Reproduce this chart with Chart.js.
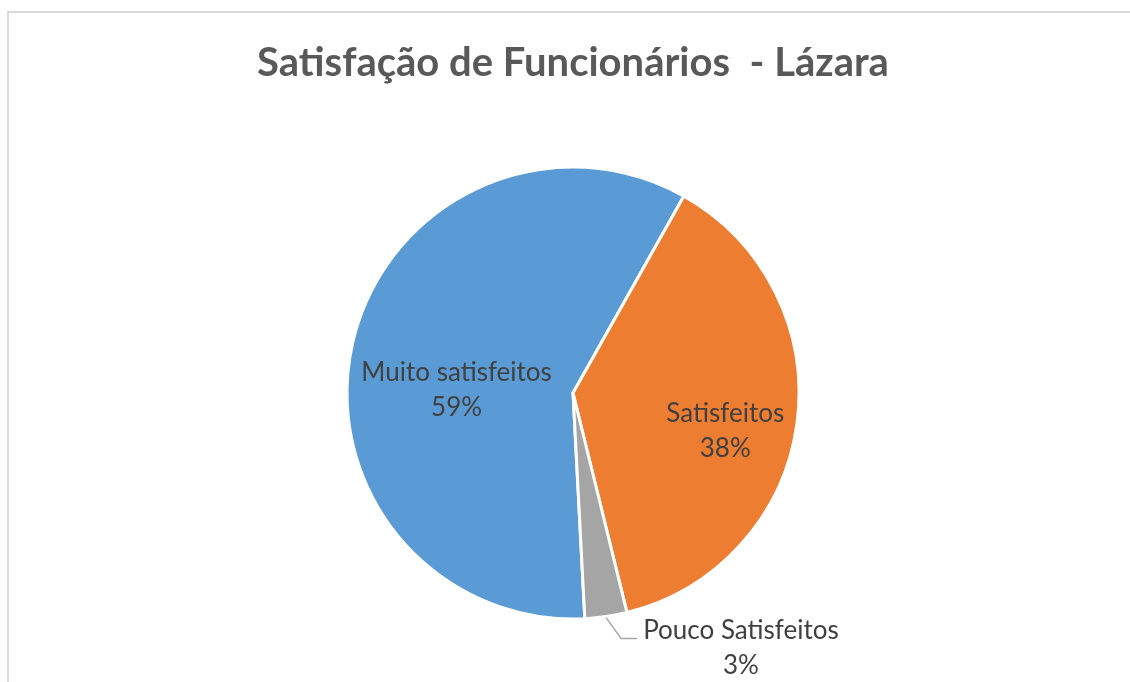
<!DOCTYPE html>
<html>
<head>
<meta charset="utf-8">
<title>Satisfação de Funcionários - Lázara</title>
<script src="https://cdn.jsdelivr.net/npm/chart.js@4"></script>
<style>
  body { margin: 0; background: #fff; overflow: hidden; }
  .frame {
    position: absolute; left: 7px; top: 11px; width: 1300px; height: 900px;
    border-left: 2px solid #d9d9d9; border-top: 2px solid #d9d9d9;
  }
  #wrap { position: absolute; left: 0; top: 0; width: 1130px; height: 682px; }
</style>
</head>
<body>
<div class="frame"></div>
<div id="wrap"><canvas id="pie"></canvas></div>
<script>
const titleText = 'Satisfação de Funcionários  - Lázara';
const categories = ['Muito satisfeitos', 'Satisfeitos', 'Pouco Satisfeitos'];
const percentages = [59, 38, 3];
const sliceColors = ['#5b9bd5', '#ed7d31', '#a5a5a5'];

// where each data label goes: inside the slice (dist = fraction of radius,
// plus a nudge) or outside with a leader line
const labelSpots = [
  { inside: true, dist: 0.52, dx: -2, dy: 23 },
  { inside: true, dist: 0.68, dx: 0, dy: 17 },
  { inside: false }
];

const labelFont = '26px Lato';
const labelColor = '#404040';
const lineGap = 35;
const capHalf = 9;

const dataLabels = {
  id: 'dataLabels',
  afterDatasetsDraw(chart) {
    const ctx = chart.ctx;
    const arcs = chart.getDatasetMeta(0).data;
    ctx.save();
    ctx.font = labelFont;
    ctx.fillStyle = labelColor;
    ctx.textBaseline = 'alphabetic';
    arcs.forEach((arc, i) => {
      const p = arc.getProps(['x', 'y', 'startAngle', 'endAngle', 'outerRadius'], true);
      const mid = (p.startAngle + p.endAngle) / 2;
      const lines = [categories[i], percentages[i] + '%'];
      const spot = labelSpots[i];
      let cx, cy;
      if (spot.inside) {
        cx = p.x + Math.cos(mid) * p.outerRadius * spot.dist + spot.dx;
        cy = p.y + Math.sin(mid) * p.outerRadius * spot.dist + spot.dy;
      } else {
        // leader line from the rim, down and out, then flat
        const sx = p.x + Math.cos(mid) * (p.outerRadius + 1);
        const sy = p.y + Math.sin(mid) * (p.outerRadius + 1);
        const ex = sx + 15, ey = sy + 21;
        ctx.strokeStyle = '#a6a6a6';
        ctx.lineWidth = 1.5;
        ctx.beginPath();
        ctx.moveTo(sx, sy);
        ctx.lineTo(ex, ey);
        ctx.lineTo(ex + 16, ey);
        ctx.stroke();
        const w = Math.max(...lines.map(t => ctx.measureText(t).width));
        cx = ex + 22 + w / 2;
        cy = ey + 9;
      }
      ctx.textAlign = 'center';
      ctx.fillText(lines[0], cx, cy - lineGap / 2 + capHalf);
      ctx.fillText(lines[1], cx, cy + lineGap / 2 + capHalf);
    });
    ctx.restore();
  }
};

new Chart(document.getElementById('pie'), {
  type: 'pie',
  data: {
    labels: categories,
    datasets: [{
      data: percentages,
      backgroundColor: sliceColors,
      borderColor: '#ffffff',
      borderWidth: 3
    }]
  },
  options: {
    responsive: true,
    maintainAspectRatio: false,
    animation: false,
    events: [],
    rotation: 177,
    radius: 226,
    layout: { padding: { left: 16, right: 0, top: 0, bottom: 0 } },
    plugins: {
      legend: { display: false },
      tooltip: { enabled: false },
      title: {
        display: true,
        text: titleText,
        color: '#595959',
        font: { family: 'Lato', size: 40, weight: 'bold' },
        padding: { top: 39, bottom: 17 }
      }
    }
  },
  plugins: [dataLabels]
});
</script>
</body>
</html>
